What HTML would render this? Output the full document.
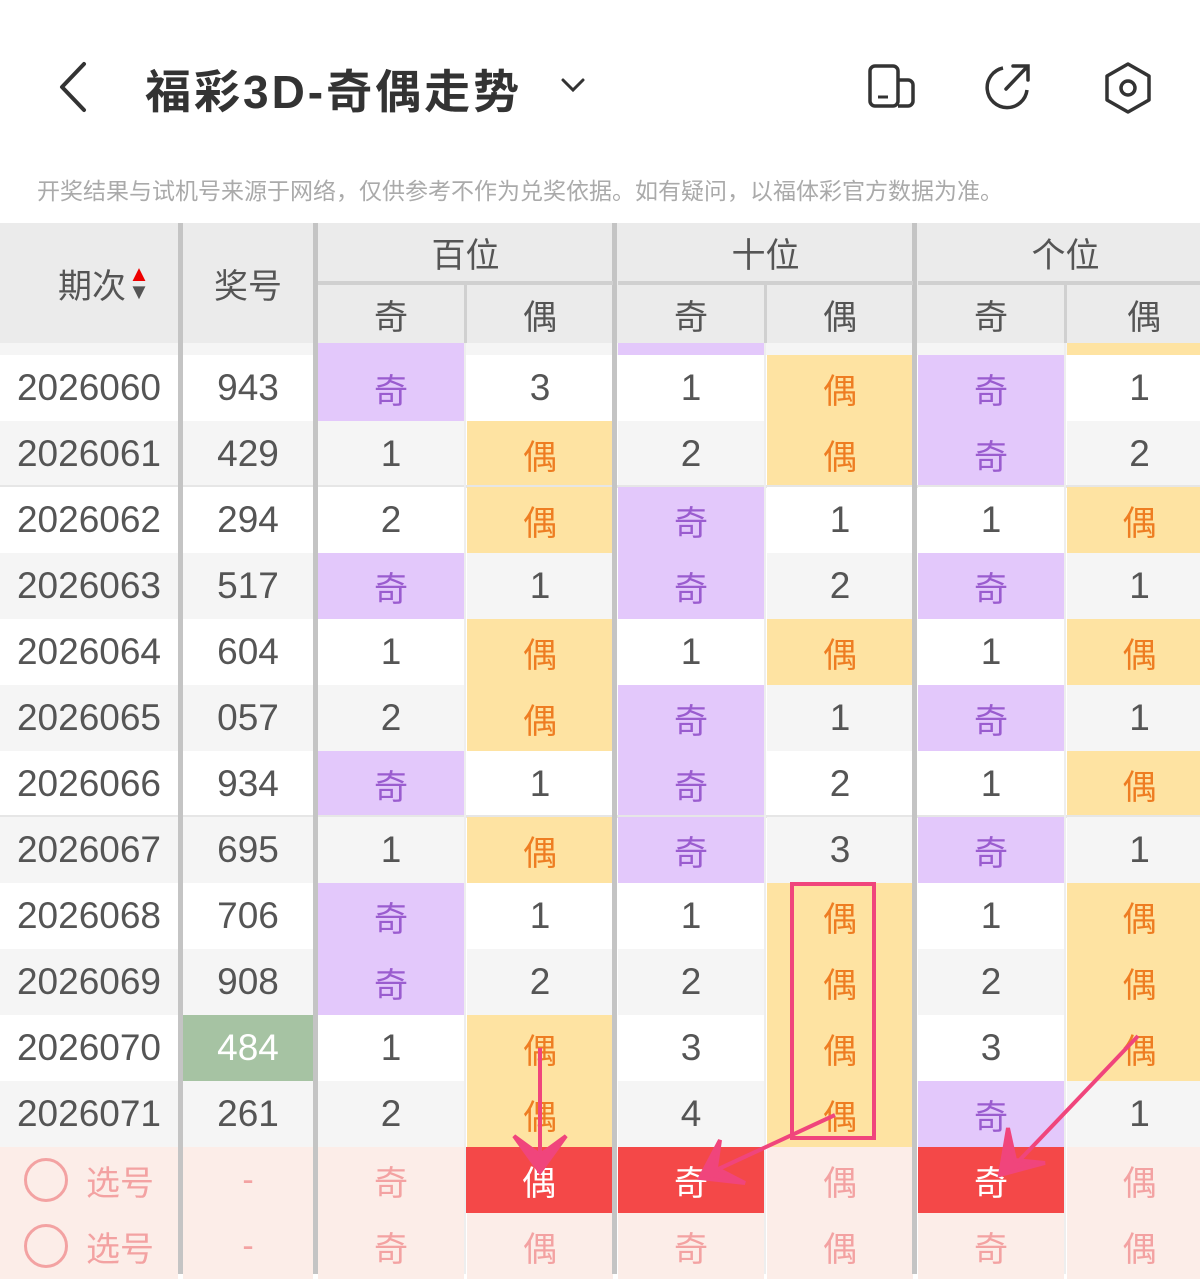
<!DOCTYPE html>
<html><head><meta charset="utf-8"><style>
*{margin:0;padding:0;box-sizing:border-box}
body{width:1200px;height:1274px;overflow:hidden;background:#fff;font-family:"Liberation Sans","Noto Sans CJK SC",sans-serif;position:relative}
.a{position:absolute}
.c{position:absolute;display:flex;align-items:center;justify-content:center;font-size:34px;color:#555}
.n{font-size:37px}
</style></head><body>
<svg class="a" style="left:0;top:0" width="1200" height="160">
<polyline points="84,64 62,87 84,110" fill="none" stroke="#333" stroke-width="4" stroke-linecap="round" stroke-linejoin="round"/>
<polyline points="563,80 573,90 583,80" fill="none" stroke="#333" stroke-width="3" stroke-linecap="round"/>
<rect x="870" y="66" width="28" height="40" rx="5" fill="none" stroke="#333" stroke-width="3.5"/>
<path d="M898 80 H908 a5 5 0 0 1 5 5 V101 a5 5 0 0 1 -5 5 H898" fill="none" stroke="#333" stroke-width="3.5"/>
<line x1="878" y1="97" x2="888" y2="97" stroke="#333" stroke-width="3"/>
<path d="M1003 68 A20 20 0 1 0 1027 90" fill="none" stroke="#333" stroke-width="3.5"/>
<path d="M1006 89 L1026 68 M1013 66 H1028 V80" fill="none" stroke="#333" stroke-width="3.5" stroke-linecap="round"/>
<polygon points="1128,64 1149,76 1149,100 1128,112 1107,100 1107,76" fill="none" stroke="#333" stroke-width="3.5" stroke-linejoin="round"/>
<circle cx="1128" cy="88" r="7" fill="none" stroke="#333" stroke-width="3.5"/>
</svg>
<div class="a" style="left:145px;top:56px;font-size:46px;font-weight:bold;color:#333;letter-spacing:3px">福彩3D-奇偶走势</div>
<div class="a" style="left:37px;top:172px;font-size:23px;color:#aaa;white-space:nowrap">开奖结果与试机号来源于网络，仅供参考不作为兑奖依据。如有疑问，以福体彩官方数据为准。</div>
<div id="t"></div>
<script>
var H='';
function cell(x,y,w,h,bg,txt,col,fs,cls){H+='<div class="c'+(cls?' '+cls:'')+'" style="left:'+x+'px;top:'+y+'px;width:'+w+'px;height:'+h+'px;background:'+bg+';color:'+(col||'#555')+(fs?';font-size:'+fs+'px':'')+'">'+txt+'</div>';}
function isNum(v){return typeof v==='number'||/^[0-9]+$/.test(v);}
cell(0,223,1200,120,'#ebebeb','');
cell(0,223,178,120,'#ebebeb','<span style="margin-left:30px">期次</span><span style="display:inline-block;width:22px;margin-left:2px;font-size:22px;line-height:18px;text-align:center"><span style="color:#e00">▲</span><br>▼</span>');
cell(183,223,130,120,'#ebebeb','奖号');
var groups=['百位','十位','个位'],gx=[318,618,918];
for(var g=0;g<3;g++){cell(gx[g],223,295,58,'#ebebeb',groups[g]);
cell(gx[g],286,146,57,'#ebebeb','奇');cell(gx[g]+149,286,146+(g==2?8:0),57,'#ebebeb','偶');}
var colx=[318,467,618,767,918,1067],colw=[146,146,146,146,146,145];
cell(0,343,1200,12,'#f5f5f5','');
cell(318,343,146,12,'#e3c8fb','');cell(618,343,146,12,'#e3c8fb','');cell(1067,343,133,12,'#fee3a2','');
var d=[["2026060","943","奇",3,1,"偶","奇",1],["2026061","429",1,"偶",2,"偶","奇",2],["2026062","294",2,"偶","奇",1,1,"偶"],["2026063","517","奇",1,"奇",2,"奇",1],["2026064","604",1,"偶",1,"偶",1,"偶"],["2026065","057",2,"偶","奇",1,"奇",1],["2026066","934","奇",1,"奇",2,1,"偶"],["2026067","695",1,"偶","奇",3,"奇",1],["2026068","706","奇",1,1,"偶",1,"偶"],["2026069","908","奇",2,2,"偶",2,"偶"],["2026070","484",1,"偶",3,"偶",3,"偶"],["2026071","261",2,"偶",4,"偶","奇",1]];
for(var i=0;i<d.length;i++){var y=355+i*66,bg=i%2?'#f5f5f5':'#fff',r=d[i];
cell(0,y,178,66,bg,r[0],'','','n');
if(r[1]=='484')cell(183,y,130,66,'#a6c3a3',r[1],'#fff','','n');else cell(183,y,130,66,bg,r[1],'','','n');
for(var k=0;k<6;k++){var v=r[k+2];
if(v==='奇')cell(colx[k],y,colw[k],66,'#e3c8fb','奇','#9a5ccf');
else if(v==='偶')cell(colx[k],y,colw[k],66,'#fee3a2','偶','#ee7d22');
else cell(colx[k],y,colw[k],66,bg,v,'','','n');}
if(i==1||i==6)H+='<div class="a" style="left:0;top:'+(y+64)+'px;width:1200px;height:3px;background:#e6e6e6"></div>';}
var s=[['奇','偶','奇','偶','奇','偶'],['奇','偶','奇','偶','奇','偶']],red=[[0,1,1,0,1,0],[0,0,0,0,0,0]];
for(var j=0;j<2;j++){var y=1147+j*66;
cell(0,y,178,66,'#fcede8','<span style="display:inline-block;width:44px;height:44px;border:3px solid #f3a2a2;border-radius:50%;margin-right:18px"></span>选号','#f3a2a2');
cell(183,y,130,66,'#fcede8','-','#f3a2a2');
for(var k=0;k<6;k++){if(red[j][k])cell(colx[k]-(k==1?2:0),y,colw[k]+(k==1?2:0),66,'#f44848',s[j][k],'#fff');else cell(colx[k],y,colw[k],66,'#fcede8',s[j][k],'#f3a2a2');}}
[[178,5],[313,5],[612,5],[912,5]].forEach(function(p){H+='<div class="a" style="left:'+p[0]+'px;top:223px;width:'+p[1]+'px;height:1051px;background:#c4c4c4"></div>';});
[464,764,1064].forEach(function(x){H+='<div class="a" style="left:'+x+'px;top:283px;width:3px;height:60px;background:#d0d0d0"></div><div class="a" style="left:'+x+'px;top:343px;width:2px;height:931px;background:#eee"></div>';});
[318,618,918].forEach(function(x){H+='<div class="a" style="left:'+x+'px;top:281px;width:295px;height:4px;background:#d0d0d0"></div>';});
document.getElementById('t').innerHTML=H;
</script>
<svg class="a" style="left:0;top:0" width="1200" height="1274">
<rect x="792" y="884" width="82" height="254" fill="none" stroke="#f0457c" stroke-width="4"/>
<g stroke="#f0457c" stroke-width="4" fill="#f0457c">
<line x1="540" y1="1048" x2="540" y2="1162"/>
<polygon points="514,1136 540,1172 566,1136 540,1155"/>
<line x1="835" y1="1115" x2="712" y2="1172"/>
<polygon points="720,1140 700,1178 745,1183 716,1168"/>
<line x1="1138" y1="1036" x2="1015" y2="1165"/>
<polygon points="1008,1128 1000,1175 1045,1163 1015,1160"/>
</g>
</svg>
</body></html>
